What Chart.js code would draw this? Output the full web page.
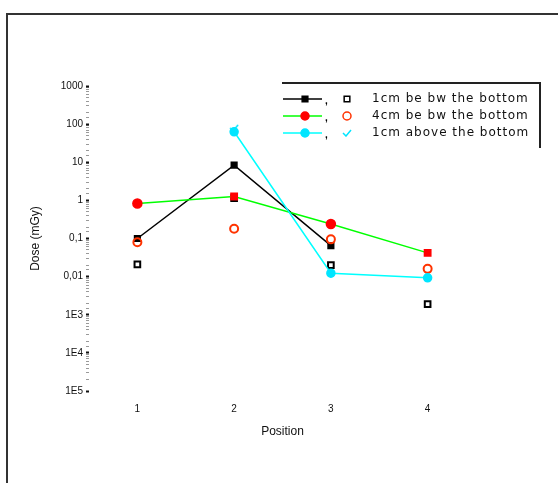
<!DOCTYPE html>
<html>
<head>
<meta charset="utf-8">
<script src="https://cdn.jsdelivr.net/npm/chart.js@4/dist/chart.umd.min.js"></script>
<style>
  html, body { margin: 0; background: #fff; }
  canvas { display: block; }
</style>
</head>
<body>
<canvas id="doseChart" width="558" height="483"></canvas>
<script>
// measurement positions along the x axis
const positions = [1, 2, 3, 4];

// decade ticks of the dose axis and how they are printed
const decadeValues = [1000, 100, 10, 1, 0.1, 0.01, 0.001, 0.0001, 0.00001];
const decadeLabels = ['1000', '100', '10', '1', '0,1', '0,01', '1E3', '1E4', '1E5'];

const seriesNames = ['1cm be bw the bottom', '4cm be bw the bottom', '1cm above the bottom'];

// dose in mGy, filled markers joined by lines
const below1Line = [0.1, 8.4, 0.065, null];
const below4Line = [0.83, 1.26, 0.24, 0.042];
const above1Line = [null, 63, 0.0123, 0.0093];

// dose in mGy, open markers
const below1Open = [0.021, 1.15, 0.02, 0.0019];
const below4Open = [0.08, 0.18, 0.095, 0.016];
const above1Open = [null, 80, null, null];

const below4Styles = ['circle', 'rect', 'circle', 'rect'];

function toPoints(values) {
  return positions.map((p, i) => ({ x: p, y: values[i] }));
}

// small cyan tick mark used for the open "above" series
function checkMark(color) {
  const c = document.createElement('canvas');
  c.width = 10; c.height = 8;
  const g = c.getContext('2d');
  g.strokeStyle = color;
  g.lineWidth = 1.5;
  g.beginPath();
  g.moveTo(1, 4); g.lineTo(4, 7); g.lineTo(9, 1);
  g.stroke();
  return c;
}
const cyanCheck = checkMark('#00e5ff');

function isDecade(v) {
  const l = Math.log10(v);
  return Math.abs(l - Math.round(l)) < 1e-6;
}

// outer frame and the legend box with its rows
const decorations = {
  id: 'decorations',
  beforeDraw(chart) {
    const ctx = chart.ctx;
    ctx.save();
    ctx.strokeStyle = '#333';
    ctx.lineWidth = 2;
    ctx.beginPath();
    ctx.moveTo(558, 14); ctx.lineTo(7, 14); ctx.lineTo(7, 483);
    ctx.stroke();
    ctx.restore();
  },
  afterDraw(chart) {
    const ctx = chart.ctx;
    const ds = chart.data.datasets;
    const rows = [[0, 3], [1, 4], [2, 5]];
    const rowY = [99, 116, 133];
    ctx.save();
    ctx.strokeStyle = '#222';
    ctx.lineWidth = 2;
    ctx.beginPath();
    ctx.moveTo(282, 83); ctx.lineTo(540, 83); ctx.lineTo(540, 148);
    ctx.stroke();

    rows.forEach(([li, oi], r) => {
      const y = rowY[r];
      const line = ds[li], open = ds[oi];
      ctx.strokeStyle = line.borderColor;
      ctx.lineWidth = 1.5;
      ctx.beginPath();
      ctx.moveTo(283, y); ctx.lineTo(322, y);
      ctx.stroke();

      ctx.fillStyle = line.pointBackgroundColor;
      ctx.strokeStyle = line.pointBorderColor;
      Chart.helpers.drawPoint(ctx, {
        pointStyle: Array.isArray(line.pointStyle) ? line.pointStyle[0] : line.pointStyle,
        radius: 4, rotation: 0, borderWidth: 1
      }, 305, y);

      ctx.fillStyle = '#000';
      ctx.font = 'bold 10px "Liberation Sans"';
      ctx.textBaseline = 'middle';
      ctx.fillText(',', 325, y + 2);

      ctx.fillStyle = 'rgba(0,0,0,0)';
      ctx.strokeStyle = open.pointBorderColor;
      Chart.helpers.drawPoint(ctx, {
        pointStyle: open.pointStyle, radius: 4, rotation: 0, borderWidth: 2
      }, 347, y);

      ctx.fillStyle = '#111';
      ctx.font = '12px "DejaVu Sans"';
      ctx.letterSpacing = '1px';
      ctx.fillText(seriesNames[r], 372, y);
      ctx.letterSpacing = '0px';
    });
    ctx.restore();
  }
};

const datasets = [
  {
    label: seriesNames[0], data: toPoints(below1Line), order: 3,
    borderColor: '#000', borderWidth: 1.5, showLine: true,
    pointStyle: 'rect', pointRadius: 4,
    pointBackgroundColor: '#000', pointBorderColor: '#000'
  },
  {
    label: seriesNames[1], data: toPoints(below4Line), order: 1,
    borderColor: '#00ff00', borderWidth: 1.5, showLine: true,
    pointStyle: below4Styles, pointRadius: 4.5,
    pointBackgroundColor: '#ff0000', pointBorderColor: '#ff0000'
  },
  {
    label: seriesNames[2], data: toPoints(above1Line), order: 0,
    borderColor: '#00ffff', borderWidth: 1.5, showLine: true,
    pointStyle: 'circle', pointRadius: 4,
    pointBackgroundColor: '#00e5ff', pointBorderColor: '#00e5ff'
  },
  {
    label: seriesNames[0] + ' (open)', data: toPoints(below1Open), order: 4,
    showLine: false, pointStyle: 'rect', pointRadius: 4, pointBorderWidth: 2,
    pointBackgroundColor: 'rgba(0,0,0,0)', pointBorderColor: '#000'
  },
  {
    label: seriesNames[1] + ' (open)', data: toPoints(below4Open), order: 2,
    showLine: false, pointStyle: 'circle', pointRadius: 4, pointBorderWidth: 2,
    pointBackgroundColor: 'rgba(0,0,0,0)', pointBorderColor: '#ff3300'
  },
  {
    label: seriesNames[2] + ' (open)', data: toPoints(above1Open), order: 0,
    showLine: false, pointStyle: cyanCheck, pointRadius: 5,
    pointBackgroundColor: 'rgba(0,0,0,0)', pointBorderColor: '#00e5ff'
  }
];

new Chart(document.getElementById('doseChart').getContext('2d'), {
  type: 'scatter',
  data: { datasets: datasets },
  options: {
    responsive: false,
    animation: false,
    layout: { padding: { top: 86, right: 82, bottom: 0, left: 0 } },
    plugins: { legend: { display: false }, tooltip: { enabled: false } },
    scales: {
      x: {
        type: 'linear', min: 0.5, max: 4.5,
        afterBuildTicks(scale) { scale.ticks = positions.map(v => ({ value: v })); },
        afterFit(scale) { scale.height = 92; },
        grid: { display: false, drawTicks: false },
        border: { display: false },
        ticks: {
          padding: 12, color: '#111',
          font: { family: 'Liberation Sans', size: 10 },
          callback: v => String(v)
        },
        title: {
          display: true, text: 'Position', color: '#111',
          font: { family: 'Liberation Sans', size: 12 },
          padding: { top: 0, bottom: 44 }
        }
      },
      y: {
        type: 'logarithmic', min: 0.00001, max: 1000,
        afterFit(scale) { scale.width = 89; },
        border: { display: false },
        grid: {
          drawOnChartArea: false, drawTicks: true, tickLength: 3,
          tickColor: ctx => isDecade(ctx.tick.value) ? '#111' : '#999',
          tickWidth: ctx => isDecade(ctx.tick.value) ? 2 : 1
        },
        ticks: {
          autoSkip: false, padding: 3, color: '#111',
          font: { family: 'Liberation Sans', size: 10 },
          callback(v) {
            if (!isDecade(v)) return '';
            const i = decadeValues.findIndex(d => Math.abs(Math.log10(d) - Math.log10(v)) < 1e-6);
            return i >= 0 ? decadeLabels[i] : '';
          }
        },
        title: {
          display: true, text: 'Dose (mGy)', color: '#111',
          font: { family: 'Liberation Sans', size: 12 },
          padding: { top: 28, bottom: 0 }
        }
      }
    }
  },
  plugins: [decorations]
});
</script>
</body>
</html>
